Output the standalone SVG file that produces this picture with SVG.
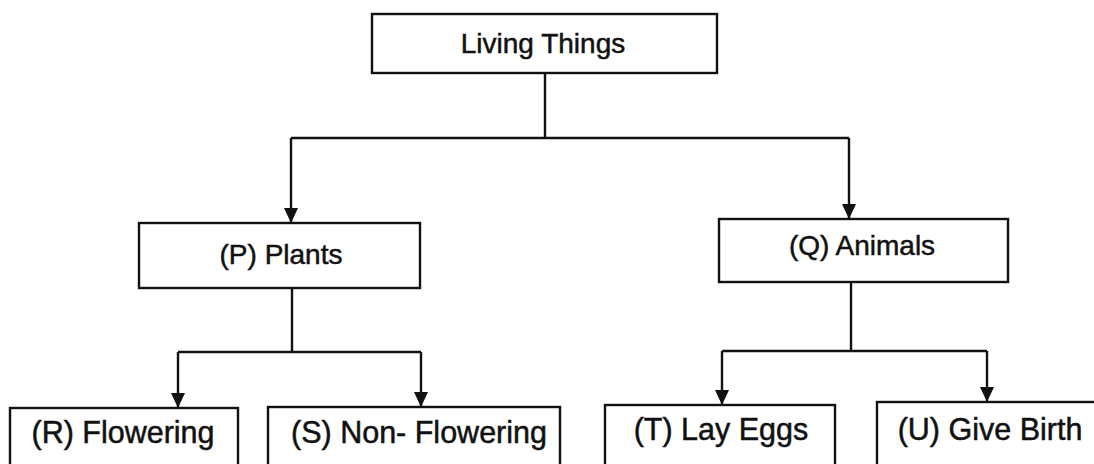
<svg xmlns="http://www.w3.org/2000/svg" width="1094" height="464" viewBox="0 0 1094 464">
  <style>
    .box { fill: #ffffff; stroke: #111111; stroke-width: 2.4; }
    .lbl { font-family: "Liberation Sans", Arial, sans-serif; fill: #111111; stroke: #111111; stroke-width: 0.5; text-anchor: middle; }
    .top { font-size: 28px; }
    .bot { font-size: 30.5px; }
    .conn { fill: none; stroke: #111111; stroke-width: 2.4; }
  </style>
  <defs>
    <marker id="arrow" markerUnits="userSpaceOnUse" markerWidth="15" markerHeight="14" refX="15" refY="7" orient="auto">
      <path d="M0,0 L15,7 L0,14 z" fill="#111111"/>
    </marker>
  </defs>
  <rect width="1094" height="464" fill="#ffffff"/>

  <g id="connectors">
    <path class="conn" d="M545,73 V138"/>
    <path class="conn" d="M291,138 H849"/>
    <path class="conn" d="M291,138 V223" marker-end="url(#arrow)"/>
    <path class="conn" d="M849,138 V219" marker-end="url(#arrow)"/>
    <path class="conn" d="M292,288 V352"/>
    <path class="conn" d="M178,352 H421"/>
    <path class="conn" d="M178,352 V408" marker-end="url(#arrow)"/>
    <path class="conn" d="M421,352 V407" marker-end="url(#arrow)"/>
    <path class="conn" d="M851,282 V351"/>
    <path class="conn" d="M722,351 H987"/>
    <path class="conn" d="M722,351 V405" marker-end="url(#arrow)"/>
    <path class="conn" d="M987,351 V402" marker-end="url(#arrow)"/>
  </g>

  <g id="living-things">
    <rect class="box" x="372" y="14" width="345" height="59"/>
    <text class="lbl top" x="543" y="53">Living Things</text>
  </g>
  <g id="plants">
    <rect class="box" x="139" y="223" width="281" height="65"/>
    <text class="lbl top" x="281" y="264">(P) Plants</text>
  </g>
  <g id="animals">
    <rect class="box" x="719" y="219" width="289" height="63"/>
    <text class="lbl top" x="862" y="255">(Q) Animals</text>
  </g>
  <g id="flowering">
    <rect class="box" x="10" y="408" width="228" height="70"/>
    <text class="lbl bot" x="123" y="443">(R) Flowering</text>
  </g>
  <g id="non-flowering">
    <rect class="box" x="268" y="407" width="292" height="70"/>
    <text class="lbl bot" x="419" y="443">(S) Non- Flowering</text>
  </g>
  <g id="lay-eggs">
    <rect class="box" x="605" y="405" width="230" height="70"/>
    <text class="lbl bot" x="721" y="440">(T) Lay Eggs</text>
  </g>
  <g id="give-birth">
    <rect class="box" x="877" y="402" width="230" height="70"/>
    <text class="lbl bot" x="990" y="440">(U) Give Birth</text>
  </g>
</svg>
